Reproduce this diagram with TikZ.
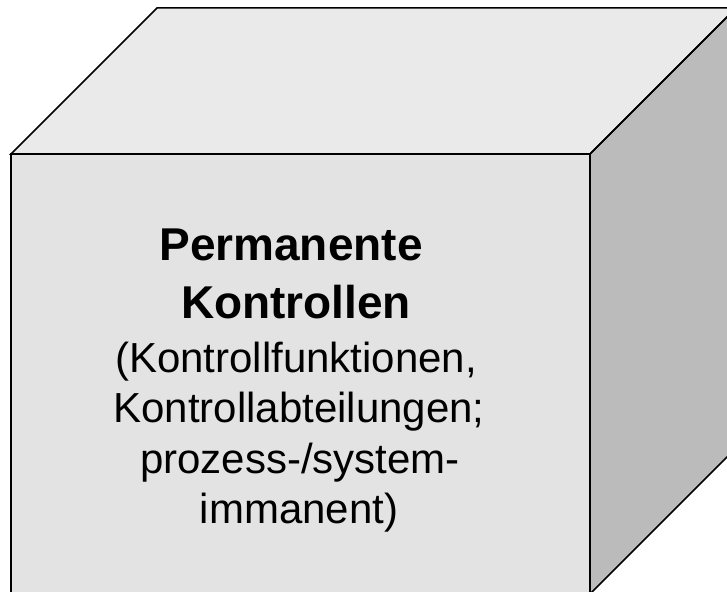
\documentclass[tikz,border=0pt]{standalone}
\usepackage{fontspec}
\setmainfont{Liberation Sans}
\definecolor{topface}{HTML}{EAEAEA}
\definecolor{frontface}{HTML}{E3E3E3}
\definecolor{sideface}{HTML}{BBBBBB}
\begin{document}
\begin{tikzpicture}[x=1pt,y=-1pt,
  face/.style={draw=black,line width=1.5pt,line join=miter},
  titletext/.style={anchor=base,inner sep=0pt,font=\fontsize{46}{53}\selectfont\bfseries},
  bodytext/.style={anchor=base,inner sep=0pt,font=\fontsize{42}{48}\selectfont}]
\useasboundingbox (0,0) rectangle (727,591);
\clip (0,0) rectangle (727,591);
% cube corners
\coordinate (ftl) at (11,154);
\coordinate (ftr) at (590,154);
\coordinate (fbr) at (590,594);
\coordinate (fbl) at (11,594);
\coordinate (btl) at (157,8);
\coordinate (btr) at (736,8);
\coordinate (bbr) at (736,448);
% faces
\fill[frontface] (ftl) -- (ftr) -- (fbr) -- (fbl) -- cycle;
\fill[topface] (ftl) -- (btl) -- (btr) -- (ftr) -- cycle;
\fill[sideface] (ftr) -- (btr) -- (bbr) -- (fbr) -- cycle;
\draw[face] (ftl) -- (btl) -- (btr) -- (ftr) -- cycle;
\draw[face] (ftr) -- (btr) -- (bbr) -- (fbr) -- cycle;
\draw[face] (ftl) -- (ftr) -- (fbr) -- (fbl) -- cycle;
% text
\node[titletext] (l1) at (291,260) {Permanente};
\node[titletext] (l2) at (296,318) {Kontrollen};
\node[bodytext] (l3) at (296,372) {(Kontrollfunktionen,};
\node[bodytext] (l4) at (299,422.5) {Kontrollabteilungen;};
\node[bodytext] (l5) at (300,473) {prozess-/system-};
\node[bodytext] (l6) at (299,523.5) {immanent)};
\end{tikzpicture}
\end{document}
